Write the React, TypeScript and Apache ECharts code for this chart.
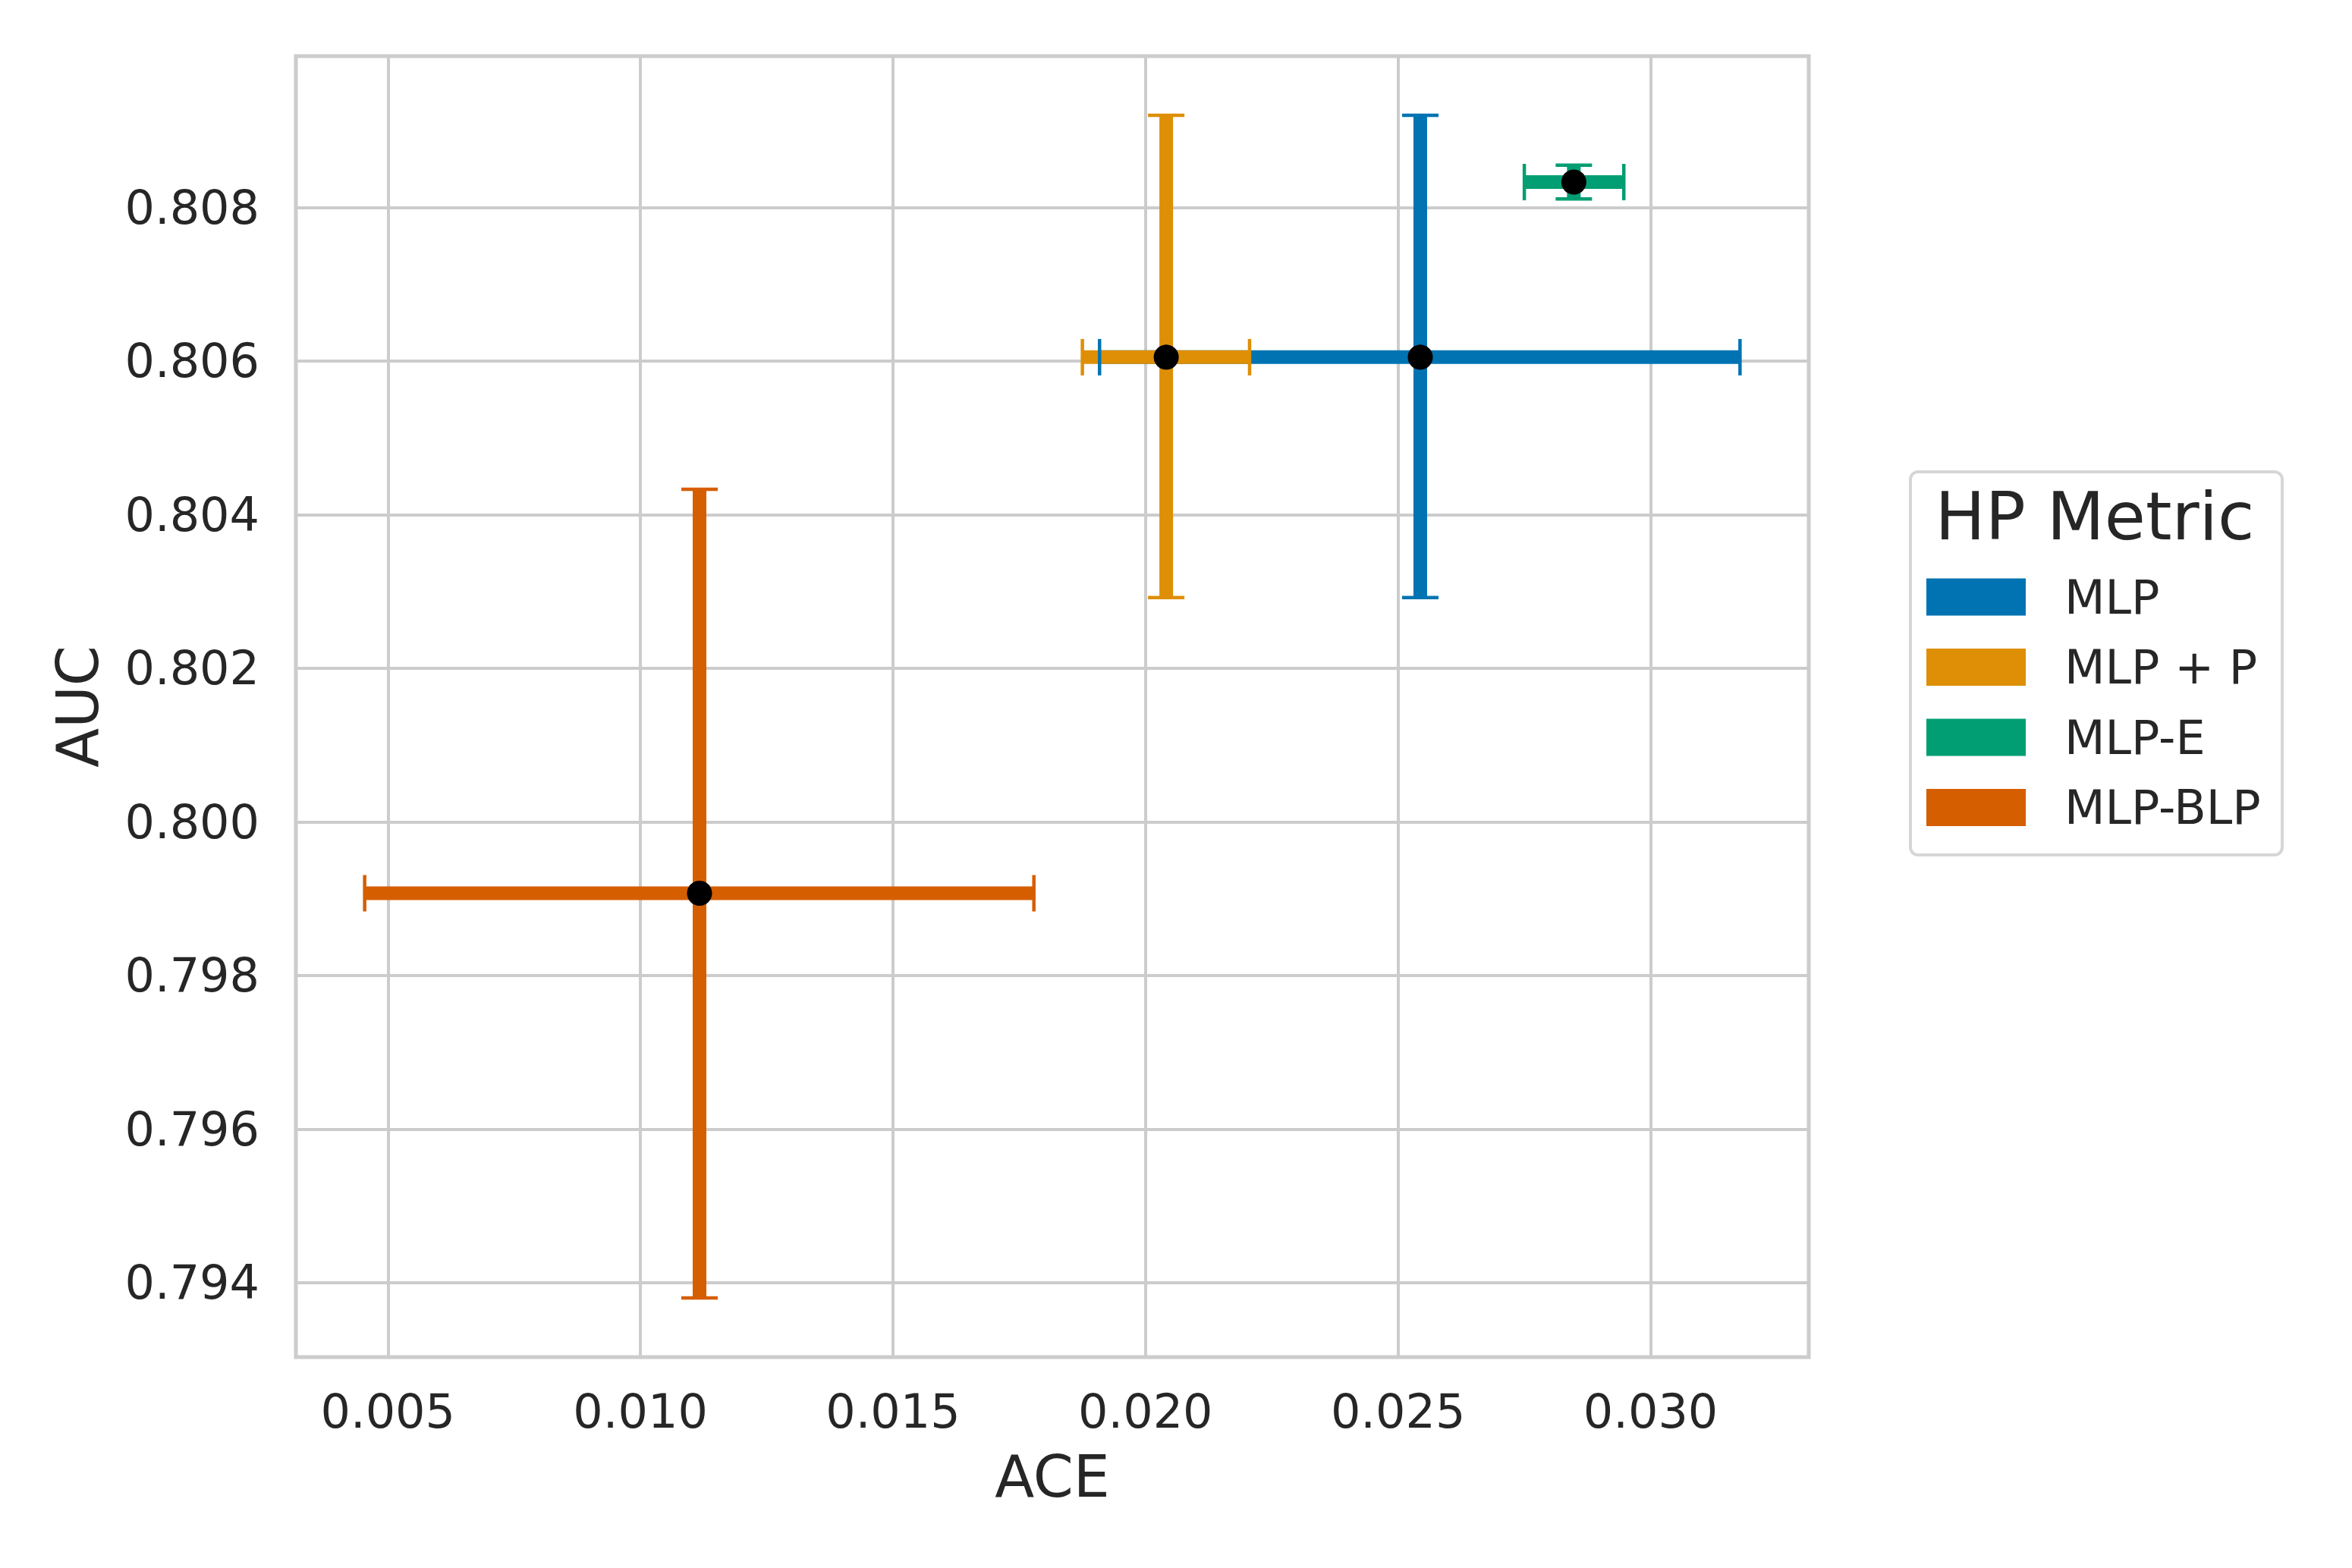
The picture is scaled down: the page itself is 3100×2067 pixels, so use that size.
import React, { useEffect, useRef } from "react";
import * as echarts from "echarts";

const hpMetrics = ["MLP", "MLP + P", "MLP-E", "MLP-BLP"];
const metricColors = ["#0173b2", "#de8f05", "#029e73", "#d55e00"];
const aceMean = [0.02544, 0.02041, 0.02848, 0.01117];
const aceLow = [0.01909, 0.01875, 0.0275, 0.00454];
const aceHigh = [0.03177, 0.02206, 0.02947, 0.01779];
const aucMean = [0.80605, 0.80605, 0.80833, 0.79907];
const aucLow = [0.80292, 0.80292, 0.80811, 0.7938];
const aucHigh = [0.8092, 0.8092, 0.80855, 0.80433];

const FONT = "DejaVu Sans";
const TEXT = "#262626";
const GRID = "#cccccc";

export default function App() {
  const ref = useRef<HTMLDivElement>(null);

  useEffect(() => {
    document.body.style.margin = "0";
    if (!ref.current) return;
    const chart = echarts.init(ref.current, null, { renderer: "svg" });

    const xLo = Math.min(...aceLow);
    const xHi = Math.max(...aceHigh);
    const yLo = Math.min(...aucLow);
    const yHi = Math.max(...aucHigh);
    const xPad = 0.05 * (xHi - xLo);
    const yPad = 0.05 * (yHi - yLo);

    const rows = hpMetrics.map((_, i) => [
      aceMean[i],
      aucMean[i],
      aceLow[i],
      aceHigh[i],
      aucLow[i],
      aucHigh[i],
    ]);

    const barSeries = hpMetrics.map((name, i) => ({
      type: "custom",
      name,
      z: 2,
      itemStyle: { color: metricColors[i] },
      encode: { x: [0, 2, 3], y: [1, 4, 5] },
      data: [rows[i]],
      renderItem: (params: any, api: any) => {
        const x = api.value(0), y = api.value(1);
        const pL = api.coord([api.value(2), y]);
        const pR = api.coord([api.value(3), y]);
        const pB = api.coord([x, api.value(4)]);
        const pT = api.coord([x, api.value(5)]);
        const color = api.visual("color");
        return {
          type: "group",
          children: [
            { type: "line", shape: { x1: pL[0], y1: pL[1], x2: pR[0], y2: pR[1] }, style: { stroke: color, lineWidth: 18 } },
            { type: "line", shape: { x1: pB[0], y1: pB[1], x2: pT[0], y2: pT[1] }, style: { stroke: color, lineWidth: 18 } },
          ],
        };
      },
    }));

    const capSeries = {
      type: "custom",
      name: "caps",
      z: 3,
      encode: { x: [0, 2, 3], y: [1, 4, 5] },
      data: rows.map((r, i) => ({ value: r, itemStyle: { color: metricColors[i] } })),
      renderItem: (params: any, api: any) => {
        const x = api.value(0), y = api.value(1);
        const pL = api.coord([api.value(2), y]);
        const pR = api.coord([api.value(3), y]);
        const pB = api.coord([x, api.value(4)]);
        const pT = api.coord([x, api.value(5)]);
        const color = api.visual("color");
        const h = 24;
        const st = { stroke: color, lineWidth: 4.5 };
        return {
          type: "group",
          children: [
            { type: "line", shape: { x1: pL[0], y1: pL[1] - h, x2: pL[0], y2: pL[1] + h }, style: st },
            { type: "line", shape: { x1: pR[0], y1: pR[1] - h, x2: pR[0], y2: pR[1] + h }, style: st },
            { type: "line", shape: { x1: pB[0] - h, y1: pB[1], x2: pB[0] + h, y2: pB[1] }, style: st },
            { type: "line", shape: { x1: pT[0] - h, y1: pT[1], x2: pT[0] + h, y2: pT[1] }, style: st },
          ],
        };
      },
    };

    const meanSeries = {
      type: "scatter",
      name: "means",
      z: 4,
      symbol: "circle",
      symbolSize: 33,
      itemStyle: { color: "#000000", opacity: 1 },
      data: aceMean.map((x, i) => [x, aucMean[i]]),
    };

    chart.setOption({
      animation: false,
      backgroundColor: "#ffffff",
      textStyle: { fontFamily: FONT, color: TEXT },
      grid: {
        left: 390,
        top: 74,
        right: 716,
        bottom: 278,
        show: true,
        borderColor: GRID,
        borderWidth: 5,
        containLabel: false,
      },
      xAxis: {
        type: "value",
        min: xLo - xPad,
        max: xHi + xPad,
        splitNumber: 6,
        minInterval: 0.005,
        maxInterval: 0.005,
        name: "ACE",
        nameLocation: "middle",
        nameGap: 119,
        nameTextStyle: { fontFamily: FONT, fontSize: 76, color: TEXT, lineHeight: 76 },
        axisLine: { show: false },
        axisTick: { show: false },
        axisLabel: {
          fontFamily: FONT,
          fontSize: 62,
          lineHeight: 62,
          color: TEXT,
          margin: 40,
          showMinLabel: false,
          showMaxLabel: false,
          formatter: (v: number) => v.toFixed(3),
        },
        splitLine: { show: true, lineStyle: { color: GRID, width: 4 } },
      },
      yAxis: {
        type: "value",
        min: yLo - yPad,
        max: yHi + yPad,
        splitNumber: 8,
        minInterval: 0.002,
        maxInterval: 0.002,
        name: "AUC",
        nameLocation: "middle",
        nameGap: 250,
        nameTextStyle: { fontFamily: FONT, fontSize: 76, color: TEXT, lineHeight: 76 },
        axisLine: { show: false },
        axisTick: { show: false },
        axisLabel: {
          fontFamily: FONT,
          fontSize: 62,
          lineHeight: 62,
          color: TEXT,
          margin: 48,
          showMinLabel: false,
          showMaxLabel: false,
          formatter: (v: number) => v.toFixed(3),
        },
        splitLine: { show: true, lineStyle: { color: GRID, width: 4 } },
      },
      legend: {
        data: hpMetrics,
        orient: "vertical",
        left: 2539,
        top: 756,
        padding: 0,
        icon: "rect",
        itemWidth: 131,
        itemHeight: 49,
        itemGap: 30.5,
        selectedMode: false,
        textStyle: {
          fontFamily: FONT,
          fontSize: 62,
          lineHeight: 49,
          color: TEXT,
          padding: [0, 0, 0, 46],
        },
      },
      graphic: [
        {
          type: "rect",
          left: 2516,
          top: 620,
          z: -1,
          shape: { width: 490, height: 505, r: 10 },
          style: { fill: "#ffffff", stroke: "#d6d6d6", lineWidth: 4 },
        },
        {
          type: "text",
          x: 2761,
          y: 680,
          style: {
            text: "HP Metric",
            fontFamily: FONT,
            fontSize: 88,
            fill: TEXT,
            align: "center",
            verticalAlign: "middle",
          },
        },
      ],
      series: [...barSeries, capSeries, meanSeries],
    });

    return () => chart.dispose();
  }, []);

  return <div ref={ref} style={{ width: "3100px", height: "2067px" }} />;
}
